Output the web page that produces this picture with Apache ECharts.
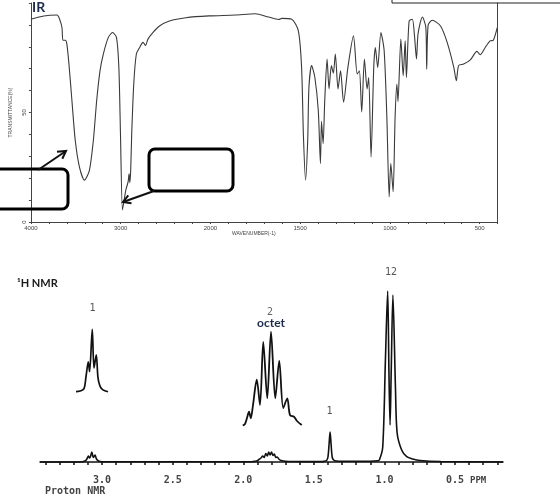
<!DOCTYPE html>
<html>
<head>
<meta charset="utf-8">
<script src="https://cdn.jsdelivr.net/npm/echarts@6/dist/echarts.min.js"></script>
<style>
  html, body { margin: 0; padding: 0; background: #fff; }
  #chart { width: 560px; height: 499px; }
</style>
</head>
<body>
<div id="chart"></div>
<script>
// IR spectrum (wavenumber in cm-1, transmittance in %)
const irWavenumber = [4000, 3856, 3709, 3680, 3654, 3643, 3617, 3599, 3573, 3543, 3506, 3459, 3403, 3348, 3304, 3267, 3230, 3193, 3138, 3090, 3046, 3020, 3002, 2980, 2961, 2943, 2917, 2906, 2898, 2888, 2877, 2854, 2825, 2788, 2751, 2722, 2696, 2641, 2567, 2457, 2273, 2015, 1861, 1750, 1676, 1620, 1602, 1547, 1510, 1492, 1482, 1470, 1458, 1451, 1436, 1418, 1399, 1387, 1381, 1372, 1363, 1350, 1339, 1326, 1315, 1304, 1289, 1275, 1258, 1234, 1203, 1182, 1170, 1157, 1142, 1127, 1118, 1105, 1090, 1081, 1068, 1050, 1032, 1017, 1004, 995, 982, 971, 961, 955, 939, 926, 915, 908, 893, 875, 863, 852, 843, 819, 800, 795, 787, 764, 718, 681, 644, 630, 617, 589, 552, 515, 497, 469, 442, 424, 402]
const irTransmittance = [92.6, 94.1, 94.5, 92.6, 88.8, 83, 83, 81.2, 70.6, 55.5, 37.3, 25.1, 19.1, 23.6, 37.3, 55.5, 69, 76.7, 84.2, 86.5, 84.2, 70.6, 40.3, 5.5, 10, 14.5, 18.3, 22, 18, 23.6, 40, 63, 76.7, 79.7, 82, 80.6, 83.5, 86.5, 89.5, 91.8, 93.3, 94.1, 94.5, 95.1, 93.6, 92.5, 93, 92.6, 87.3, 70.6, 40, 19.1, 37, 61.5, 71.4, 66, 51, 26.7, 46, 35.8, 55.5, 74.4, 60.8, 71.4, 68, 76.7, 60.8, 69, 54.7, 70.6, 85, 67.6, 69, 50.2, 74.4, 60.8, 66, 29.7, 70.6, 79.7, 70.6, 86.5, 78.2, 47.9, 11.5, 26.7, 13.8, 47.9, 63, 55, 83.5, 66.8, 82.7, 66, 91.8, 92.6, 85, 74.4, 86, 93.6, 89, 69.8, 89.9, 92.1, 89.5, 82, 70.6, 64.5, 71.4, 72.1, 74, 77.9, 76.4, 79.7, 82.7, 83, 88.8]
const irXLabels = [4000, 3000, 2000, 1500, 1000, 500]
const irYLabels = [0, 50]

// 1H NMR main trace
const nmrPpm = [3.44, 3.2, 3.14, 3.12, 3.108, 3.097, 3.089, 3.081, 3.073, 3.062, 3.05, 3.04, 3.025, 3.0, 2.5, 1.95, 1.93, 1.905, 1.89, 1.875, 1.862, 1.852, 1.84, 1.83, 1.82, 1.81, 1.8, 1.79, 1.78, 1.77, 1.76, 1.745, 1.73, 1.7, 1.66, 1.45, 1.43, 1.41, 1.4, 1.392, 1.385, 1.378, 1.37, 1.36, 1.34, 1.3, 1.1, 1.05, 1.036, 1.012, 0.993, 0.977, 0.968, 0.96, 0.952, 0.94, 0.922, 0.91, 0.878, 0.842, 0.8, 0.748, 0.6, 0.16]
const nmrIntensity = [0, 0, 0.3, 1, 3, 6, 4, 6, 10, 4.5, 7, 3, 1, 0.3, 0.2, 0.3, 0.5, 1, 2.5, 4, 6, 4.5, 8.5, 6, 10, 7, 10, 6.5, 8, 4.5, 5, 2.5, 1.5, 0.8, 0.5, 0.4, 0.6, 1.5, 5, 18, 30, 18, 5, 2, 1, 0.8, 0.8, 1.2, 2, 15, 102, 171, 90, 37, 90, 167, 75, 29, 12, 5.3, 3, 1.5, 0.5, 0]
const nmrTickLabels = [3.0, 2.5, 2.0, 1.5, 1.0, 0.5]

// expanded multiplets
const tripletPpm = [3.12, 3.105, 3.09, 3.0825, 3.074, 3.069, 3.059, 3.0525, 3.044, 3.0375, 3.03, 3.019, 3.0]
const tripletIntensity = [0, 1, 5, 24, 48, 32, 100, 38, 59, 22, 9, 3, 0]
const octetPpm = [1.917, 1.908, 1.9, 1.892, 1.885, 1.876, 1.861, 1.848, 1.835, 1.819, 1.804, 1.787, 1.771, 1.755, 1.739, 1.728, 1.712, 1.7, 1.681]
const octetIntensity = [0, 1.6, 8, 14.7, 7.7, 21.8, 49, 21.8, 89, 29, 100, 29, 69, 18.6, 29, 11, 9.4, 4.8, 0.5]

// IR axis is split: 4000-2000 at one scale, 2000-400 at double scale
const toU = w => (w >= 2000 ? 4000 - w : 2000 + (2000 - w) * 2)
const fromU = u => (u <= 2000 ? 4000 - u : 2000 - (u - 2000) / 2)

const pairs = (xs, ys) => xs.map((x, i) => [x, ys[i]])

const nmrTicks = []
for (let k = 2; k <= 34; k++) nmrTicks.push(k / 10)

const mono = '"DejaVu Sans Mono", monospace'
const irFont = { fontSize: 6, color: '#444', fontFamily: 'Liberation Sans' }

const chart = echarts.init(document.getElementById('chart'), null, { renderer: 'canvas' })

const text = (str, x, y, style) => ({
  type: 'text',
  x: x,
  y: y,
  z: 100,
  style: Object.assign({
    text: str,
    textAlign: 'center',
    textVerticalAlign: 'middle'
  }, style)
})

const arrow = (x1, y1, x2, y2, h1, h2) => [
  { type: 'line', z: 100, shape: { x1, y1, x2, y2 }, style: { stroke: '#111', lineWidth: 2 } },
  { type: 'polyline', z: 100, shape: { points: [h1, [x2, y2], h2] }, style: { stroke: '#111', lineWidth: 2, fill: null } }
]

chart.setOption({
  animation: false,
  grid: [
    { left: 27, right: 62.4, top: 2, bottom: 277 },
    { left: 40, right: 57, top: 262, bottom: 29 },
    { left: 76, width: 32, top: 329.3, bottom: 107.3 },
    { left: 242, width: 60, top: 331.7, bottom: 73.5 }
  ],
  xAxis: [
    {
      gridIndex: 0,
      type: 'value',
      min: 0,
      max: 5200,
      interval: 200,
      axisLine: { lineStyle: { color: '#444', width: 1 } },
      axisTick: { length: 2, lineStyle: { color: '#444' } },
      splitLine: { show: false },
      axisLabel: Object.assign({
        margin: 3,
        formatter: v => (irXLabels.includes(fromU(v)) && v % 1000 === 0 ? String(fromU(v)) : '')
      }, irFont)
    },
    {
      gridIndex: 1,
      type: 'value',
      inverse: true,
      min: 0.16,
      max: 3.44,
      axisLine: { lineStyle: { color: '#111', width: 1.5 } },
      axisTick: { customValues: nmrTicks, length: 3, lineStyle: { color: '#111', width: 1.5 } },
      splitLine: { show: false },
      axisLabel: {
        customValues: nmrTickLabels,
        formatter: v => v.toFixed(1),
        margin: 5,
        fontSize: 10,
        fontWeight: 'bold',
        fontFamily: mono,
        color: '#444'
      }
    },
    { gridIndex: 2, type: 'value', inverse: true, min: 3.0, max: 3.12, show: false },
    { gridIndex: 3, type: 'value', inverse: true, min: 1.68, max: 1.92, show: false }
  ],
  yAxis: [
    {
      gridIndex: 0,
      type: 'value',
      min: 0,
      max: 100,
      interval: 10,
      axisLine: { show: true, lineStyle: { color: '#444', width: 1 } },
      axisTick: { show: true, length: 2, lineStyle: { color: '#444' } },
      splitLine: { show: false },
      axisLabel: Object.assign({
        rotate: 90,
        margin: 4,
        formatter: v => (irYLabels.includes(v) ? String(v) : '')
      }, irFont),
      name: 'TRANSMITTANCE(%)',
      nameLocation: 'middle',
      nameRotate: 90,
      nameGap: 13,
      nameTextStyle: { fontSize: 5, color: '#444' }
    },
    {
      gridIndex: 0,
      type: 'value',
      position: 'right',
      min: 0,
      max: 100,
      axisLine: { show: true, lineStyle: { color: '#444', width: 1 } },
      axisTick: { show: false },
      axisLabel: { show: false },
      splitLine: { show: false }
    },
    { gridIndex: 1, type: 'value', min: -8, max: 200, show: false },
    { gridIndex: 2, type: 'value', min: 0, max: 100, show: false },
    { gridIndex: 3, type: 'value', min: 0, max: 100, show: false }
  ],
  series: [
    {
      type: 'line',
      xAxisIndex: 0,
      yAxisIndex: 0,
      data: irWavenumber.map((w, i) => [toU(w), irTransmittance[i]]),
      showSymbol: false,
      smooth: 0.25,
      clip: false,
      lineStyle: { color: '#3a3a3a', width: 1.1 }
    },
    {
      type: 'line',
      xAxisIndex: 1,
      yAxisIndex: 2,
      data: pairs(nmrPpm, nmrIntensity),
      showSymbol: false,
      smooth: 0.3,
      clip: false,
      lineStyle: { color: '#111', width: 1.6 }
    },
    {
      type: 'line',
      xAxisIndex: 2,
      yAxisIndex: 3,
      data: pairs(tripletPpm, tripletIntensity),
      showSymbol: false,
      smooth: 0.3,
      clip: false,
      lineStyle: { color: '#111', width: 1.7 }
    },
    {
      type: 'line',
      xAxisIndex: 3,
      yAxisIndex: 4,
      data: pairs(octetPpm, octetIntensity),
      showSymbol: false,
      smooth: 0.3,
      clip: false,
      lineStyle: { color: '#111', width: 1.8 }
    }
  ],
  graphic: [
    // answer box clipped at the top right
    { type: 'rect', z: 100, shape: { x: 392, y: -30, width: 200, height: 33 }, style: { fill: null, stroke: '#222', lineWidth: 1 } },
    { type: 'rect', z: 100, shape: { x: -5, y: 169, width: 73, height: 40, r: 6 }, style: { fill: null, stroke: '#000', lineWidth: 3 } },
    { type: 'rect', z: 100, shape: { x: 149, y: 149, width: 84, height: 42, r: 6 }, style: { fill: null, stroke: '#000', lineWidth: 3 } },
    ...arrow(38, 170, 66, 151, [57, 151.8], [62.3, 158.8]),
    ...arrow(154, 191, 123, 202, [131.5, 203.3], [128.3, 195.3]),
    text('IR', 32, 7, { textAlign: 'left', font: 'bold 14px Lato, "Open Sans", sans-serif', fill: '#1d2c4c' }),
    text('WAVENUMBER(-1)', 232, 234, { textAlign: 'left', font: '5px "Liberation Sans", sans-serif', fill: '#444' }),
    text('¹H NMR', 17, 283, { textAlign: 'left', font: 'bold 11px Lato, "Open Sans", sans-serif', fill: '#1a1a1a' }),
    text('1', 92.5, 308, { font: '10px ' + mono, fill: '#555' }),
    text('2', 270, 312, { font: '10px ' + mono, fill: '#666' }),
    text('octet', 271, 323, { font: 'bold 12px Lato, "Open Sans", sans-serif', fill: '#1d2c4c' }),
    text('1', 329.5, 411, { font: '10px ' + mono, fill: '#555' }),
    text('12', 391, 272, { font: '10px ' + mono, fill: '#555' }),
    text('PPM', 470, 481, { textAlign: 'left', font: 'bold 9px ' + mono, fill: '#444' }),
    text('Proton NMR', 45, 491, { textAlign: 'left', font: 'bold 10px ' + mono, fill: '#444' })
  ]
})
</script>
</body>
</html>
